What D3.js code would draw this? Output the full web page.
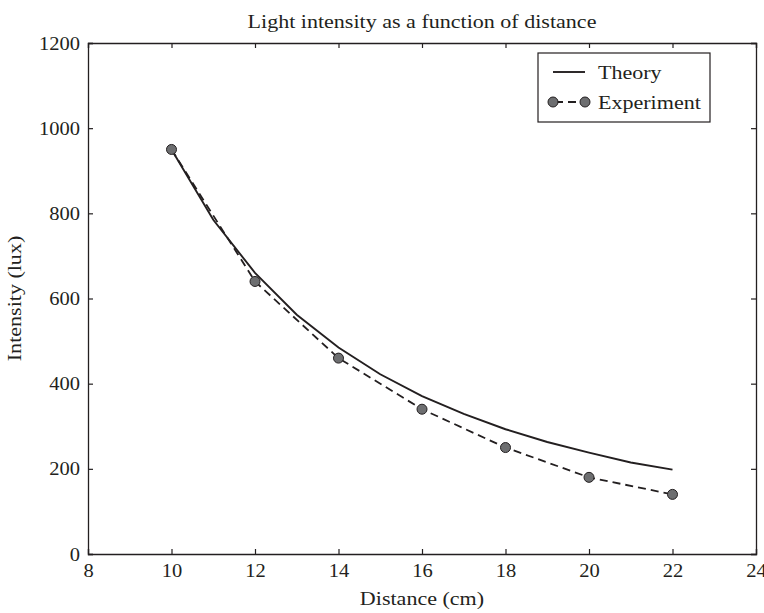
<!DOCTYPE html>
<html>
<head>
<meta charset="utf-8">
<script src="https://cdn.jsdelivr.net/npm/d3@7"></script>
<style>
  html, body { margin: 0; padding: 0; background: #fff; }
  text { font-family: "Liberation Serif", "DejaVu Serif", serif; fill: #231f20; }
</style>
</head>
<body>
<svg id="chart" width="764" height="613"></svg>
<script>
// Theoretical inverse-square curve, sampled every centimetre
const theoryDistance = [10, 11, 12, 13, 14, 15, 16, 17, 18, 19, 20, 21, 22];
const theoryIntensity = [950, 785, 660, 562, 485, 422, 371, 329, 293, 263, 238, 215, 198];

// Measured values
const expDistance = [10, 12, 14, 16, 18, 20, 22];
const expIntensity = [950, 640, 460, 340, 250, 180, 140];

const xTicks = [8, 10, 12, 14, 16, 18, 20, 22, 24];
const yTicks = [0, 200, 400, 600, 800, 1000, 1200];

const margin = { left: 88, right: 8, top: 43, bottom: 59 };
const W = 764, H = 613;
const svg = d3.select("#chart");
const ink = "#231f20";
const fontSize = "19px";
const labelStretch = 1.16; // words set a little wider than the face's default
const tickStretch = 1.08;  // figures only slightly widened

const x = d3.scaleLinear().domain([8, 24]).range([margin.left, W - margin.right]);
const y = d3.scaleLinear().domain([0, 1200]).range([H - margin.bottom, margin.top]);

const tickLen = 5;

// Axes with inward ticks, mirrored on top and right
const gx = svg.append("g").attr("transform", `translate(0,${y(0)})`)
  .call(d3.axisBottom(x).tickValues(xTicks).tickSize(-tickLen).tickPadding(10).tickFormat(d3.format("d")));
const gxt = svg.append("g").attr("transform", `translate(0,${y(1200)})`)
  .call(d3.axisTop(x).tickValues(xTicks).tickSize(-tickLen).tickFormat(""));
const gy = svg.append("g").attr("transform", `translate(${x(8)},0)`)
  .call(d3.axisLeft(y).tickValues(yTicks).tickSize(-tickLen).tickPadding(8).tickFormat(d3.format("d")));
const gyr = svg.append("g").attr("transform", `translate(${x(24)},0)`)
  .call(d3.axisRight(y).tickValues(yTicks).tickSize(-tickLen).tickFormat(""));

[gx, gxt, gy, gyr].forEach(g => {
  g.select(".domain").attr("stroke", ink).attr("stroke-width", 1.3);
  g.selectAll(".tick line").attr("stroke", ink).attr("stroke-width", 1.2);
  g.selectAll(".tick text").style("font-size", fontSize).attr("fill", ink)
    .style("font-family", "'Liberation Serif', 'DejaVu Serif', serif")
    .classed("tick-label", true);
});

// Theory curve
svg.append("path")
  .datum(theoryDistance.map((d, i) => [d, theoryIntensity[i]]))
  .attr("fill", "none").attr("stroke", ink).attr("stroke-width", 1.9)
  .attr("d", d3.line().x(d => x(d[0])).y(d => y(d[1])));

// Experiment: dashed line with markers
const expData = expDistance.map((d, i) => [d, expIntensity[i]]);
svg.append("path")
  .datum(expData)
  .attr("fill", "none").attr("stroke", ink).attr("stroke-width", 1.8)
  .attr("stroke-dasharray", "8,5")
  .attr("d", d3.line().x(d => x(d[0])).y(d => y(d[1])));
svg.append("g").selectAll("circle").data(expData).join("circle")
  .attr("cx", d => x(d[0])).attr("cy", d => y(d[1])).attr("r", 5)
  .attr("fill", "#6d6e70").attr("stroke", ink).attr("stroke-width", 1);

// Title and axis labels
svg.append("text").attr("x", (x(8) + x(24)) / 2).attr("y", 28)
  .attr("text-anchor", "middle").style("font-size", fontSize)
  .text("Light intensity as a function of distance");
svg.append("text").attr("x", (x(8) + x(24)) / 2).attr("y", 605)
  .attr("text-anchor", "middle").style("font-size", fontSize)
  .text("Distance (cm)");
svg.append("text").attr("transform", `translate(21,${(y(0) + y(1200)) / 2}) rotate(-90)`)
  .attr("text-anchor", "middle").style("font-size", fontSize)
  .text("Intensity (lux)");

// Legend
const lg = svg.append("g");
lg.append("rect").attr("x", 538).attr("y", 53).attr("width", 172).attr("height", 69)
  .attr("fill", "#fff").attr("stroke", ink).attr("stroke-width", 1.2);
lg.append("line").attr("x1", 553).attr("x2", 585).attr("y1", 72).attr("y2", 72)
  .attr("stroke", ink).attr("stroke-width", 1.9);
lg.append("text").attr("x", 598).attr("y", 79).style("font-size", fontSize).text("Theory");
lg.append("line").attr("x1", 553).attr("x2", 585).attr("y1", 102).attr("y2", 102)
  .attr("stroke", ink).attr("stroke-width", 1.8).attr("stroke-dasharray", "8,5")
  .attr("stroke-dashoffset", -2);
[553, 585].forEach(cx => lg.append("circle").attr("cx", cx).attr("cy", 102).attr("r", 5)
  .attr("fill", "#6d6e70").attr("stroke", ink).attr("stroke-width", 1));
lg.append("text").attr("x", 598).attr("y", 109).style("font-size", fontSize).text("Experiment");

// Widen labels slightly so the face's set width comes out as intended
svg.selectAll("text").each(function () {
  const len = this.getComputedTextLength();
  if (len > 0) {
    const s = this.classList.contains("tick-label") ? tickStretch : labelStretch;
    d3.select(this).attr("textLength", len * s).attr("lengthAdjust", "spacingAndGlyphs");
  }
});
</script>
</body>
</html>
